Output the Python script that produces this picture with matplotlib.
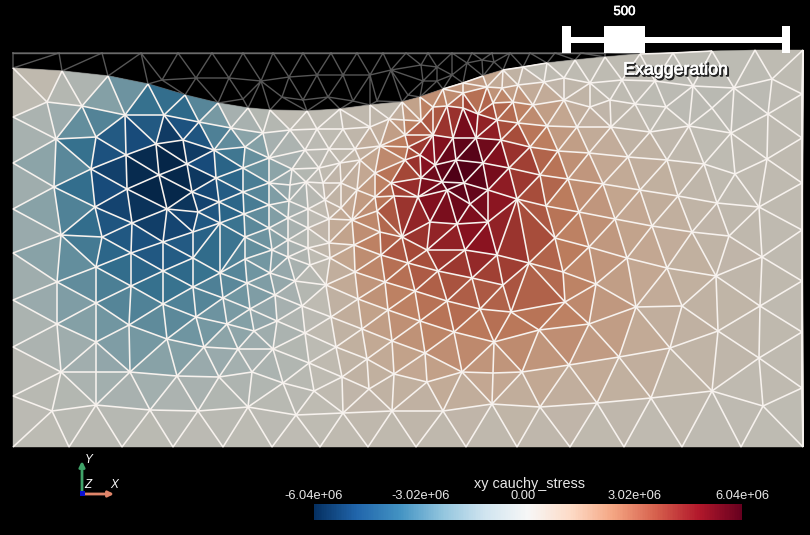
import numpy as np
import matplotlib
matplotlib.use("Agg")
import matplotlib.pyplot as plt
import matplotlib.tri as mtri
import matplotlib.patheffects as pe
from matplotlib.collections import LineCollection
from matplotlib.colors import ListedColormap, Normalize
from matplotlib.cm import ScalarMappable
from matplotlib.transforms import ScaledTranslation

plt.rcParams['font.family'] = ['Liberation Sans', 'DejaVu Sans']

# --- deformed mesh: node positions (image units) and stress (1e6) ---
surface_x = [13,62,108,148,185,218,248,270,307,340,370,402,420,443,463,483,503,523,547,575,605,640,673,712,755,803]
surface_y = [68,71,76,84,95,103,108,110,111,109,105,102,97,89,83,76,70,67,63,60,57,54,53,51,50,50]
surface_s = [.2,.5,-1.0,-3.2,-3.5,-1.5,-.1,0,0,0,.1,.3,1.3,1.4,1.4,1.7,.6,0,0,.1,0,0,0,0,0,0]

inner_x = [
 13,13,13,13,13,13,13,13,
 47,82,125,164,199,231,263,
 56,96,126,156,183,214,245,
 91,54,159,187,216,243,269,
 127,95,61,167,198,192,219,243,269,
 132,102,163,193,220,244,269,
 245,269,
 57,96,131,163,193,220,245,272,
 131,193,163,96,223,247,270,
 57,129,196,227,250,
 96,167,204,254,238,
 61,96,130,177,219,252,
 52,96,150,198,248,
 69,122,173,223,272,
 290,317,343,370,
 305,329,355,380,
 292,319,340,360,375,
 290,306,323,341,357,375,
 289,308,325,341,377,
 288,308,329,352,380,
 288,308,329,354,
 288,310,330,295,326,355,381,408,438,472,503,529,497,465,
 302,275,331,358,385,415,447,480,511,
 277,305,336,362,388,420,454,494,539,
 273,309,342,367,392,425,462,493,522,
 283,314,369,394,427,
 296,343,392,443,492,540,
 320,368,416,466,517,
 389,404,421,433,447,463,487,502,518,
 405,433,453,476,478,463,493,513,533,544,
 408,420,435,456,483,509,501,530,
 405,421,442,464,488,517,540,
 391,394,418,447,470,
 402,430,457,488,
 427,518,497,
 564,590,622,655,693,734,772,802,
 564,590,610,635,666,712,768,802,
 547,577,611,650,689,731,802,
 558,589,628,667,704,735,767,
 568,603,640,678,717,759,802,
 546,579,615,652,692,729,
 555,589,627,667,716,762,802,
 563,596,565,589,636,682,760,802,
 569,619,670,718,759,802,
 597,651,712,763,
 570,624,682,741,803,
]
inner_y = [
 117,163,209,253,300,347,396,447,
 102,106,115,115,122,128,133,
 139,137,155,144,140,150,147,
 169,187,175,164,178,168,158,
 189,207,235,209,212,192,202,192,183,
 223,237,242,232,223,214,205,
 237,228,
 282,267,253,271,258,273,259,250,
 286,287,304,303,298,283,273,
 324,325,317,324,309,
 342,339,347,331,349,
 372,372,372,376,377,372,
 411,405,410,411,407,
 447,447,447,447,447,
 130,129,129,127,
 150,149,149,146,
 169,168,163,160,173,
 185,182,183,183,190,197,
 201,209,200,208,211,
 218,228,219,220,232,
 240,248,243,245,
 257,265,258,281,285,272,255,263,271,278,285,263,255,250,
 306,295,317,299,282,291,301,309,312,
 321,333,347,329,310,321,332,342,330,
 349,363,377,359,341,353,372,373,372,
 383,391,389,374,382,
 415,413,411,411,404,407,
 447,447,447,447,447,
 119,120,121,107,106,93,87,88,85,
 135,135,138,138,114,108,103,102,105,82,
 147,155,165,160,163,168,140,147,
 160,178,182,183,190,199,175,
 183,196,197,190,204,
 237,222,224,222,
 250,123,120,
 78,83,80,81,86,88,79,94,
 100,107,100,104,107,108,114,138,
 126,127,127,132,126,133,183,
 151,153,157,160,164,174,159,
 179,184,190,196,203,207,230,
 206,212,219,226,232,236,
 238,247,258,268,276,257,281,
 272,284,302,324,307,306,306,332,
 365,357,348,331,358,388,
 403,398,391,406,
 447,447,447,447,447,
]
inner_s = [
 0,-.7,-.9,-.9,-.6,-.3,-.1,0,
 -.2,-1.5,-3.2,-4.3,-3.7,-1.5,-1.2,
 -2.2,-4.3,-5.6,-5.8,-5.9,-4.1,-2.6,
 -4.2,-2.2,-6.04,-6,-4.6,-3.4,-1.9,
 -5.8,-4.6,-2.4,-6,-5,-5.7,-4.6,-3.8,-2.4,
 -5,-4.1,-4.8,-4.4,-4,-3.4,-2.5,
 -3,-2.2,
 -2.2,-3.4,-4.3,-4.3,-3.9,-3.4,-2.8,-2.2,
 -3.4,-3.3,-3,-2.6,-2.6,-2.5,-2,
 -1.4,-2.8,-2.9,-2,-2,
 -1.8,-2.5,-1.9,-1.7,-1.3,
 -.5,-1.3,-1.6,-1.3,-1,-.9,
 -.2,-.6,-.5,-.4,-.2,
 0,0,0,0,0,
 0,0,.1,.6,
 -.3,0,.2,1.5,
 -.8,-.1,.3,.7,1.6,
 -1,-.5,.2,.6,1.1,2,
 -1.2,-.6,.2,.7,2.2,
 -1.3,-.3,.8,1.6,2.5,
 -1.1,-.2,.6,1.7,
 -1.4,-.3,.5,-1,.2,1.6,2.6,3.2,3.6,3.5,3.3,3.7,4.6,4.9,
 -.4,-1.6,.3,1.2,2.3,2.7,3,2.9,3,
 -1.1,-.3,.3,1,1.9,2.3,2.5,2.2,2.4,
 -.9,-.2,.3,.8,1.4,1.8,1.5,1.5,1.4,
 -.5,-.1,.5,.8,.9,
 -.1,.2,.3,.5,.5,.6,
 0,.1,.1,.1,.1,
 .2,1.9,2.5,3,2.4,2.2,1.5,1,1,
 2.6,4.4,5.4,5.6,4.4,4.6,3,2.5,1.7,.1,
 3,4.6,5.2,6.04,5.9,4.4,4.6,3.4,
 3,4.8,6,6,5.4,4,3.6,
 3.2,3.6,4.6,5.8,5.4,
 4,4.6,5,4.8,
 3.6,2.6,3.4,
 0,0,0,-.1,-.2,-.2,0,0,
 .9,.4,.1,0,-.1,-.2,-.1,.1,
 1.7,1,.5,.2,0,0,.1,
 2,1.3,.8,.6,.1,0,.2,
 2.3,1.4,.9,.6,.2,.1,.1,
 2.9,2.1,1.5,1,.6,.3,
 2.8,2,1.4,1,.5,.2,.1,
 2.5,1.8,2.4,2,1.1,.6,.2,.1,
 1.3,1.3,.6,.5,.2,.1,
 .4,.4,.2,0,
 .1,0,0,0,0,
]

# --- undeformed reference mesh above the surface ---
ghost_x = [13,59,102,141,178,212,243,273,303,331,357,383,406,428,452,472,492,510,530,555,581,605,
           162,196,229,261,289,317,343,370,391,421,437,467,482,494,
           243,282,303,328,353,377,408,423,437,452]
ghost_y = [53,53,53,53,53,53,53,53,53,53,53,53,53,53,53,53,53,53,53,53,53,53,
           80,78,78,81,77,75,75,75,70,65,67,63,60,62,
           99,97,100,97,101,101,95,81,81,75]

# --- colour bar ---
stress_limit = 6.04
bar_ticks = [-6.04, -3.02, 0.0, 3.02, 6.04]
bar_labels = ['-6.04e+06', '-3.02e+06', '0.00', '3.02e+06', '6.04e+06']
bar_title = 'xy cauchy_stress'
scale_label = '500'
note_label = 'Exaggeration'

# lit surface colours: the bar's map darkened by the scene lighting
base = plt.get_cmap('RdBu_r')(np.linspace(0, 1, 256))
lit = base.copy()
lit[:, :3] = base[:, :3] * np.array([0.77, 0.76, 0.725])
lit_cmap = ListedColormap(lit)

fig = plt.figure(figsize=(8.1, 5.35), dpi=100, facecolor='black')
ax = fig.add_axes([0, 0, 1, 1], facecolor='black')
ax.set_xlim(0, 810)
ax.set_ylim(535, 0)
ax.axis('off')

X = np.array(surface_x + inner_x, float)
Y = np.array(surface_y + inner_y, float)
S = np.array(surface_s + inner_s, float)

# ghost mesh, behind the solid
gx = np.array(ghost_x + surface_x[:22], float)
gy = np.array(ghost_y + surface_y[:22], float)
gt = mtri.Triangulation(gx, gy)
ax.triplot(gt, color='#565656', lw=1.0, zorder=1)
ax.plot([13, 605], [53, 53], color='#6a6a6a', lw=1.0, zorder=1.1)

tri = mtri.Triangulation(X, Y)
cx = X[tri.triangles].mean(axis=1)
cy = Y[tri.triangles].mean(axis=1)
tri.set_mask(cy < np.interp(cx, surface_x, surface_y) - 0.5)

ax.tripcolor(tri, S, shading='flat', cmap=lit_cmap, vmin=-stress_limit, vmax=stress_limit,
             edgecolors='face', linewidth=0.3, zorder=2)

# wireframe: interior edges only, the outer boundary carries no line in the reference
neigh = tri.neighbors
tris = tri.get_masked_triangles()
edge_count = {}
for t in tris:
    for a, b in ((t[0], t[1]), (t[1], t[2]), (t[2], t[0])):
        key = (min(a, b), max(a, b))
        edge_count[key] = edge_count.get(key, 0) + 1
segs = [[(X[a], Y[a]), (X[b], Y[b])] for (a, b), n in edge_count.items() if n == 2]
ax.add_collection(LineCollection(segs, colors='#f7f2ee', linewidths=1.15, zorder=3))

# scale bar
for (x0, y0, w, h) in [(562, 26, 9, 27), (604, 26, 41, 27), (782, 26, 8, 27), (571, 37, 211, 6)]:
    ax.add_patch(plt.Rectangle((x0, y0), w, h, color='white', lw=0, zorder=5))
ax.text(624.5, 12, scale_label, color='white', fontsize=9.5, ha='center', va='center', zorder=6,
        path_effects=[pe.withStroke(linewidth=0.4, foreground='white')])
ax.text(675.5, 70, note_label, color='white', fontsize=12.8, ha='center', va='center', zorder=6,
        path_effects=[pe.SimpleLineShadow(offset=(1, -1), shadow_color='#222222', alpha=1, linewidth=1.2),
                      pe.withStroke(linewidth=0.5, foreground='white')])

# orientation triad
ax.annotate('', xy=(82, 461), xytext=(82, 494),
            arrowprops=dict(arrowstyle='-|>', color='#3fa268', lw=2, mutation_scale=8, shrinkA=0, shrinkB=0))
ax.annotate('', xy=(114, 494), xytext=(82, 494),
            arrowprops=dict(arrowstyle='-|>', color='#e0856a', lw=2, mutation_scale=8, shrinkA=0, shrinkB=0))
ax.add_patch(plt.Rectangle((79.5, 491), 5, 5, color='#0a10d0', lw=0, zorder=6))
for t, tx, ty in [('Y', 89, 460), ('Z', 88, 485), ('X', 114, 485)]:
    ax.text(tx, ty, t, color='white', fontsize=8.5, style='italic', ha='center', va='center')

# colour bar
cax = fig.add_axes([314 / 810, (535 - 520) / 535, 428 / 810, 16 / 535])
cb = fig.colorbar(ScalarMappable(Normalize(-stress_limit, stress_limit), cmap='RdBu_r'),
                  cax=cax, orientation='horizontal', ticks=bar_ticks)
cb.outline.set_visible(False)
cax.xaxis.set_ticks_position('top')
cax.set_xticks(bar_ticks)
cax.set_xticklabels(bar_labels, color='#e8e8e8', fontsize=9.3)
cax.tick_params(axis='x', length=0, pad=1.5)
mid = cax.get_xticklabels()[2]
mid.set_transform(mid.get_transform() + ScaledTranslation(-5 / 100, 0, fig.dpi_scale_trans))
ax.text(530, 484, bar_title, color='#e8e8e8', fontsize=10.4, ha='center', va='center')

fig.savefig('out.png', dpi=100, facecolor='black')
